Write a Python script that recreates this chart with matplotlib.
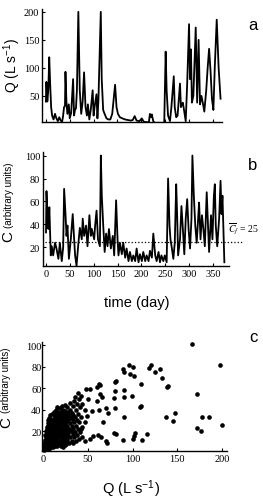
import matplotlib
matplotlib.use("Agg")
import matplotlib.pyplot as plt

# panel a: discharge Q (L s-1) vs day
q_day = [0, 1, 3, 5, 7, 9, 11, 13, 16, 19, 22, 25, 28, 31, 34, 36, 38, 40, 41, 43, 45, 48, 50, 53,
         57, 59, 61, 63, 65, 68, 71, 74, 77, 80, 83, 86, 88, 91, 94, 98, 100, 102, 106, 108, 110,
         115, 117, 120, 123, 127, 131, 135, 139, 145, 148, 151, 155, 160, 166, 172, 178, 182, 186,
         190, 196, 201, 205, 212, 216, 218, 220, 222, 225, 228, 235, 242, 248, 251, 253, 256, 260,
         263, 268, 270, 273, 276, 281, 283, 285, 287, 290, 293, 296, 300, 302, 304, 306, 309, 314,
         317, 320, 323, 326, 329, 332, 336, 339, 342, 345, 348, 351, 354, 358, 362, 366]
q_val = [40, 75, 40, 60, 119, 70, 30, 15, 8, 18, 10, 5, 12, 6, 4, 14, 30, 32, 93, 40, 18, 35, 10, 20,
         80, 15, 25, 28, 60, 200, 60, 18, 40, 92, 30, 15, 35, 8, 25, 60, 15, 30, 53, 10, 40,
         200, 80, 25, 18, 10, 8, 8, 18, 70, 30, 18, 12, 10, 8, 7, 6, 7, 14,
         6, 5, 10, 4, 3, 4, 18, 12, 17, 5, 2, 2, 2, 2, 129, 60, 15, 5,
         30, 85, 30, 12, 15, 72, 30, 35, 38, 22, 5, 70, 178, 80, 133, 38, 50, 172,
         38, 150, 35, 50, 37, 22, 60, 100, 134, 95, 45, 25, 103, 186, 100, 45]

# panel b: concentration C (arbitrary units) vs day
c_day = [0, 1, 3, 5, 7, 10, 12, 15, 19, 22, 26, 29, 33, 36, 38, 41, 43, 45, 48, 52, 56, 59, 61, 64,
         68, 71, 75, 77, 80, 84, 87, 91, 94, 96, 101, 103, 106, 109, 113, 115, 117, 120, 123, 126,
         129, 132, 136, 140, 143, 147, 150, 152, 155, 159, 162, 166, 169, 173, 176, 180, 183, 187,
         190, 194, 197, 201, 204, 208, 211, 215, 218, 222, 225, 229, 232, 236, 239, 242, 246, 249,
         253, 256, 259, 261, 264, 267, 270, 273, 275, 277, 281, 284, 287, 290, 293, 296, 299, 302,
         305, 307, 310, 313, 316, 319, 321, 324, 327, 330, 333, 337, 340, 342, 346, 349, 352, 354,
         356, 359, 363, 366, 368, 370, 372, 374]
c_val = [33, 69, 48, 36, 55, 13, 21, 13, 24, 19, 10, 24, 8, 20, 71, 48, 30, 39, 10, 27, 49, 27, 13, 4,
         24, 37, 27, 45, 30, 39, 21, 48, 30, 36, 27, 39, 52, 27, 21, 100, 65, 39, 16, 32,
         21, 36, 19, 30, 13, 61, 27, 13, 24, 14, 24, 11, 19, 8, 16, 8, 13, 8,
         19, 7, 14, 8, 16, 8, 13, 8, 17, 11, 32, 13, 8, 16, 7, 13, 8, 13,
         7, 80, 39, 27, 19, 10, 24, 75, 48, 13, 27, 56, 36, 14, 45, 62, 36, 19,
         45, 100, 65, 39, 24, 45, 59, 27, 48, 36, 21, 68, 36, 16, 48, 27, 65, 75,
         39, 21, 45, 78, 49, 65, 36, 7]
c_mean = 25

# panel c: C vs Q scatter
sc_q = [1, 1, 1, 2, 2, 2, 2, 3, 3, 3, 3, 4, 4, 4, 4, 5, 5, 5, 5, 5, 6, 6, 6, 6, 6, 7, 7, 7, 7, 7,
        8, 8, 8, 8, 8, 8, 9, 9, 9, 9, 9, 10, 10, 10, 10, 10, 11, 11, 11, 11, 11, 12, 12, 12, 12, 12,
        13, 13, 13, 13, 13, 14, 14, 14, 14, 14, 15, 15, 15, 15, 15, 16, 16, 16, 16, 16,
        17, 17, 17, 17, 17, 18, 18, 18, 18, 19, 19, 19, 19, 19, 20, 20, 20, 20, 21, 21, 21, 21, 21,
        22, 22, 22, 22, 22, 23, 23, 23, 23, 24, 24, 24, 24, 24, 25, 25, 25, 25, 26, 26, 26, 26,
        27, 27, 27, 27, 28, 28, 28, 29, 29, 29, 30, 30, 30, 30, 31, 31, 32, 32, 32, 33, 33, 33,
        34, 34, 34, 35, 35, 35, 36, 36, 36, 37, 37, 37, 38, 38, 38, 39, 39, 39, 40, 40, 40, 41, 41,
        42, 42, 43, 44,
        2, 4, 6, 8, 3, 5, 7, 9, 11, 13, 4, 6, 10, 12, 14, 16, 18, 20, 22, 24, 26, 28,
        167, 198, 172, 172, 177, 178, 186, 200, 137, 148, 145, 138, 140, 133, 131, 125, 118, 121,
        110, 108, 110, 100, 96, 97, 102, 89, 91, 91, 90, 99, 90, 103, 102, 101, 116, 111, 89,
        79, 81, 80, 82, 80, 79, 80, 73, 70, 67, 70, 71, 64, 62, 60, 64, 66, 60, 62, 55, 56, 61,
        65, 52, 48, 52, 50, 47, 49, 47, 42, 43, 47]
sc_c = [2, 5, 9, 3, 7, 12, 16, 4, 9, 14, 20, 6, 11, 17, 24, 3, 8, 13, 19, 27, 5, 10, 16, 22, 30,
        7, 12, 19, 25, 32, 4, 9, 15, 21, 28, 35, 6, 12, 18, 24, 31, 8, 14, 20, 27, 36,
        5, 11, 17, 23, 30, 9, 15, 22, 29, 38, 6, 13, 19, 26, 33, 10, 17, 24, 31, 40,
        7, 14, 21, 28, 36, 11, 18, 26, 33, 42, 8, 15, 23, 30, 38, 12, 20, 27, 35,
        9, 17, 25, 32, 41, 14, 22, 30, 38, 11, 19, 27, 35, 43, 8, 16, 24, 33, 40,
        13, 21, 29, 37, 10, 18, 26, 34, 44, 15, 23, 31, 39, 8, 20, 28, 36,
        12, 25, 33, 42, 18, 30, 38, 9, 22, 35, 14, 27, 40, 46, 20, 32, 11, 25, 37, 17, 30, 43,
        9, 22, 35, 14, 28, 48, 19, 33, 52, 11, 25, 40, 16, 30, 45, 22, 36, 55, 13, 28, 50, 19, 42,
        33, 53, 24, 45,
        10, 18, 25, 11, 15, 22, 29, 17, 26, 34, 22, 18, 12, 10, 7, 6, 10, 6, 5, 7, 12, 15,
        101, 81, 54, 23, 20, 33, 33, 26, 33, 37, 29, 61, 62, 69, 78, 75, 79, 81,
        64, 42, 43, 80, 81, 73, 71, 78, 75, 58, 52, 53, 33, 18, 15, 13, 17, 12, 12,
        18, 17, 66, 67, 57, 51, 41, 37, 41, 28, 11, 9, 63, 64, 61, 54, 52, 48, 40, 39, 15, 16,
        14, 13, 59, 59, 50, 40, 34, 28, 22, 14, 11]

serif = ["Liberation Serif", "DejaVu Serif"]
sans = ["Liberation Sans", "DejaVu Sans"]
plt.rcParams["mathtext.fontset"] = "stix"

fig = plt.figure(figsize=(2.63, 5.02), dpi=100)
ax_a = fig.add_axes([0.160, 0.755, 0.684, 0.225])
ax_b = fig.add_axes([0.1635, 0.468, 0.707, 0.227])
ax_c = fig.add_axes([0.160, 0.0996, 0.703, 0.217])

for ax in (ax_a, ax_b, ax_c):
    for s in ("top", "right"):
        ax.spines[s].set_visible(False)
    for s in ("left", "bottom"):
        ax.spines[s].set_linewidth(1.0)
    ax.tick_params(direction="in", length=2.5, width=0.8, pad=2, labelsize=7.5)

# a
ax_a.plot(q_day, q_val, color="black", lw=1.3)
ax_a.set_xlim(-8, 369)
ax_a.set_ylim(3.5, 205)
ax_a.set_xticks(range(0, 360, 50))
ax_a.set_xticklabels([])
ax_a.set_yticks([50, 100, 150, 200])
ax_a.set_yticklabels(["50", "100", "150", "200"], family=serif)

# b
ax_b.plot(c_day, c_val, color="black", lw=1.3)
ax_b.axhline(c_mean, xmin=0.01, xmax=1.07, color="black", ls=":", lw=0.9, clip_on=False)
ax_b.set_xlim(-6.3, 383.6)
ax_b.set_ylim(3.7, 103)
ax_b.set_xticks(range(0, 360, 50))
ax_b.set_xticklabels([str(v) for v in range(0, 360, 50)], family=serif)
ax_b.set_yticks([20, 40, 60, 80, 100])
ax_b.set_yticklabels(["20", "40", "60", "80", "100"], family=serif)
ax_b.text(0.995, 0.333, r"$\overline{C}_f$ = 25", transform=ax_b.transAxes, fontsize=7,
          family=serif, va="center", ha="left")

# c
ax_c.scatter(sc_q, sc_c, s=11, color="black", linewidths=0, clip_on=False)
ax_c.set_xlim(-1.1, 205.6)
ax_c.set_ylim(1.4, 102.8)
ax_c.set_xticks([0, 50, 100, 150, 200])
ax_c.set_xticklabels(["0", "50", "100", "150", "200"], family=serif)
ax_c.set_yticks([20, 40, 60, 80, 100])
ax_c.set_yticklabels(["20", "40", "60", "80", "100"], family=serif)
ax_c.tick_params(axis="y", pad=0.5)

# labels
fig.text(0.046, 0.869, r"Q (L s$\mathregular{^{-1}}$)", rotation=90, ha="center", va="center",
         fontsize=10, family=sans)
fig.text(0.036, 0.612, "(arbitrary units)", rotation=90, ha="center", va="center",
         fontsize=7, family=sans)
fig.text(0.032, 0.528, "C", rotation=90, ha="center", va="center", fontsize=11, family=sans)
fig.text(0.521, 0.396, "time (day)", ha="center", va="center", fontsize=10.5, family=sans)

fig.text(0.022, 0.243, "(arbitrary units)", rotation=90, ha="center", va="center",
         fontsize=7, family=sans)
fig.text(0.024, 0.159, "C", rotation=90, ha="center", va="center", fontsize=11, family=sans)
fig.text(0.498, 0.026, r"Q (L s$\mathregular{^{-1}}$)", ha="center", va="center",
         fontsize=10.5, family=sans)

fig.text(0.962, 0.950, "a", ha="center", va="center", fontsize=12, family=sans)
fig.text(0.962, 0.671, "b", ha="center", va="center", fontsize=12, family=sans)
fig.text(0.962, 0.327, "c", ha="center", va="center", fontsize=12, family=sans)

fig.savefig("out.png", dpi=100)
